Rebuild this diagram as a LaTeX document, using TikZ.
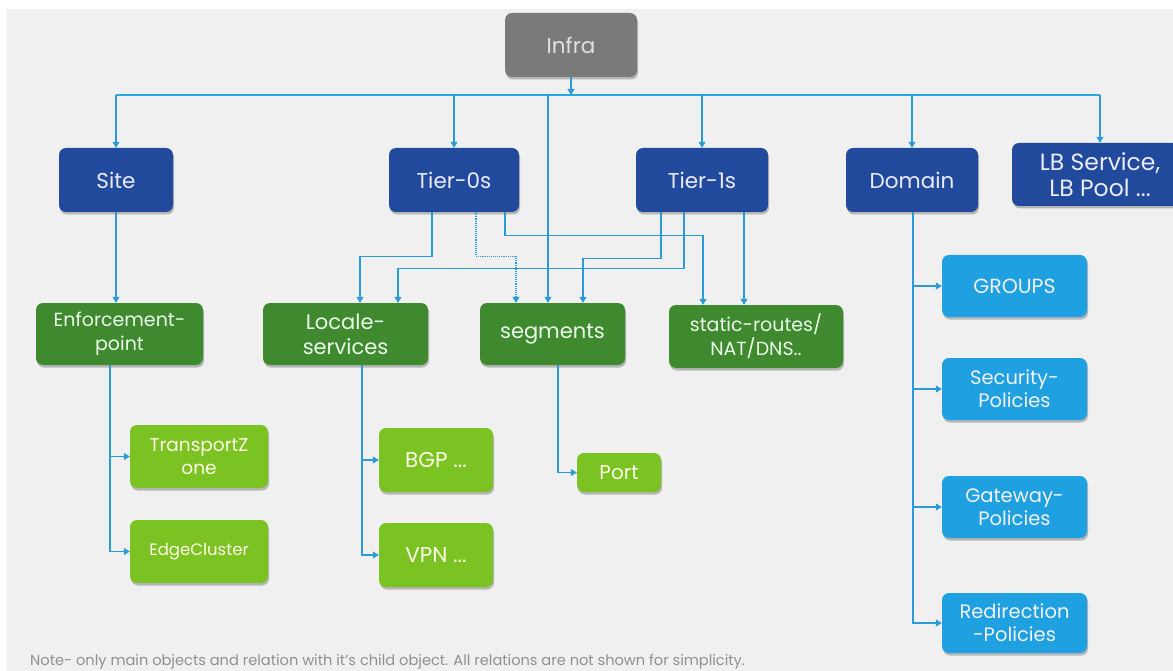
\documentclass[tikz,border=0pt]{standalone}
\usepackage{fontspec}
\setmainfont{Poppins}
\usetikzlibrary{arrows.meta,shadows}
\definecolor{bgc}{HTML}{F0F0F0}
\definecolor{infrac}{HTML}{7A7A7A}
\definecolor{darkblue}{HTML}{214A9C}
\definecolor{darkgreen}{HTML}{3F8A2E}
\definecolor{lightgreen}{HTML}{7BC323}
\definecolor{lightblue}{HTML}{1FA0E0}
\definecolor{linec}{HTML}{2B9BD8}
\definecolor{notec}{HTML}{909090}
\tikzset{
  box/.style={rectangle, rounded corners=7pt, inner sep=0pt, align=center,
    drop shadow={shadow xshift=1pt, shadow yshift=-2.5pt, opacity=0.35, fill=black!70}},
  graybox/.style={box, fill=infrac, text=black!12},
  bluebox/.style={box, fill=darkblue, text=white!92!blue},
  dgreenbox/.style={box, fill=darkgreen, text=green!8!white},
  lgreenbox/.style={box, fill=lightgreen, text=yellow!10!white},
  lbluebox/.style={box, fill=lightblue, text=white!95!blue},
  fsTop/.style={font=\fontsize{21.5}{25}\selectfont},
  fsLB/.style={font=\fontsize{23.5}{26}\selectfont},
  fsMid/.style={font=\fontsize{21}{25}\selectfont},
  fsSm/.style={font=\fontsize{19}{24}\selectfont},
  fsTZ/.style={font=\fontsize{18.5}{23}\selectfont},
  fsEdge/.style={font=\fontsize{16.5}{20}\selectfont},
  fsLB2/.style={font=\fontsize{19.5}{23}\selectfont},
  conn/.style={draw=linec, line width=1.1pt},
  arr/.style={conn, -{Triangle[width=7pt,length=6pt]}},
}
\begin{document}
\begin{tikzpicture}[x=1pt,y=-1pt]
\useasboundingbox (0,0) rectangle (1173,671);
\fill[white] (0,0) rectangle (1173,671);
\fill[bgc] (7,9) rectangle (1173,671);

% top
\node[graybox, fsTop, minimum width=132, minimum height=64] (infra) at (571,45) {Infra};
\node[bluebox, fsTop, minimum width=114, minimum height=64] (site) at (116,180) {Site};
\node[bluebox, fsTop, minimum width=130, minimum height=64] (tier0) at (454,180) {Tier-0s};
\node[bluebox, fsTop, minimum width=132, minimum height=64] (tier1) at (702,180) {Tier-1s};
\node[bluebox, fsTop, minimum width=132, minimum height=64] (domain) at (912,180) {Domain};
\node[bluebox, fsLB, minimum width=176, minimum height=63] (lb) at (1100,174.5) {LB Service,\\LB Pool ...};

% second row
\node[dgreenbox, fsSm, minimum width=167, minimum height=62] (enf) at (119.5,334) {Enforcement-\\point};
\node[dgreenbox, fsMid, minimum width=165, minimum height=62] (locale) at (345.5,334) {Locale-\\services};
\node[dgreenbox, fsMid, minimum width=145, minimum height=62] (segments) at (552.5,334) {segments};
\node[dgreenbox, fsSm, minimum width=174, minimum height=63] (static) at (756,336.5) {static-routes/\\NAT/DNS..};

% third row
\node[lgreenbox, fsTZ, minimum width=138, minimum height=63] (tz) at (199,456.5) {TransportZ\\one};
\node[lgreenbox, fsEdge, minimum width=138, minimum height=63] (edge) at (199,551.5) {EdgeCluster};
\node[lgreenbox, fsTop, minimum width=114, minimum height=64] (bgp) at (436,460) {BGP ...};
\node[lgreenbox, fsTop, minimum width=114, minimum height=64] (vpn) at (436,555) {VPN ...};
\node[lgreenbox, font=\fontsize{20}{24}\selectfont, minimum width=84, minimum height=39] (port) at (619,472.5) {Port};

% domain children
\node[lbluebox, font=\fontsize{20.5}{24}\selectfont, minimum width=145, minimum height=62] (groups) at (1014.5,286) {GROUPS};
\node[lbluebox, fsLB2, minimum width=145, minimum height=62] (secpol) at (1014.5,389) {Security-\\Policies};
\node[lbluebox, fsLB2, minimum width=145, minimum height=62] (gwpol) at (1014.5,507) {Gateway-\\Policies};
\node[lbluebox, fsLB2, minimum width=145, minimum height=60] (redir) at (1014.5,623) {Redirection\\-Policies};

% bus
\coordinate (busL) at (116,95);
\coordinate (busR) at (1100,95);
\draw[conn, draw=linec!85!cyan] (busL) -- (busR);
\draw[arr] (infra.south) -- (infra.south |- busL);
\draw[arr] (busL) -- (site.north);
\draw[arr] (tier0.north |- busL) -- (tier0.north);
\draw[arr] ([xshift=-4.5pt]segments.north |- busL) -- ([xshift=-4.5pt]segments.north);
\draw[arr] (tier1.north |- busL) -- (tier1.north);
\draw[arr] (domain.north |- busL) -- (domain.north);
\draw[arr] (busR) -- (busR |- lb.north);

% site
\draw[arr] (site.south) -- (site.south |- enf.north);

% tier-0s
\draw[arr] ([xshift=-22pt]tier0.south) -- ++(0,44) -| ([xshift=14.5pt]locale.north);
\draw[arr, densely dotted] ([xshift=22pt]tier0.south) -- ++(0,44) -| ([xshift=-36.5pt]segments.north);
\draw[arr] ([xshift=51pt]tier0.south) -- ++(0,23) -| ([xshift=-53pt]static.north);
% tier-1s
\draw[arr] ([xshift=-41pt]tier1.south) -- ++(0,46) -| ([xshift=30.5pt]segments.north);
\draw[arr] ([xshift=-18pt]tier1.south) -- ++(0,56) -| ([xshift=52.5pt]locale.north);
\draw[arr] ([xshift=42pt]tier1.south) -- ([xshift=42pt]tier1.south |- static.north);

% children
\draw[arr] ([xshift=-9.5pt]enf.south) |- (tz.west);
\draw[arr] ([xshift=-9.5pt]enf.south) |- (edge.west);
\draw[arr] ([xshift=16.5pt]locale.south) |- (bgp.west);
\draw[arr] ([xshift=16.5pt]locale.south) |- (vpn.west);
\draw[arr] ([xshift=5.5pt]segments.south) |- (port.west);
\draw[arr] ([xshift=1pt]domain.south) |- (groups.west);
\draw[arr] ([xshift=1pt]domain.south) |- (secpol.west);
\draw[arr] ([xshift=1pt]domain.south) |- (gwpol.west);
\draw[arr] ([xshift=1pt]domain.south) |- (redir.west);

\node[anchor=west, text=notec, font=\fontsize{14.6}{16}\selectfont, inner sep=0pt] (note) at (30,662)
  {Note- only main objects and relation with it's child object. All relations are not shown for simplicity.};
\end{tikzpicture}
\end{document}
